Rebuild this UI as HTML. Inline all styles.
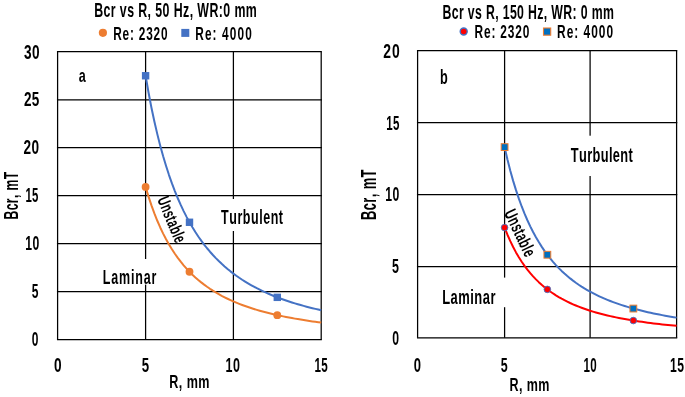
<!DOCTYPE html>
<html><head><meta charset="utf-8"><title>Bcr vs R</title><style>
html,body{margin:0;padding:0;background:#fff;}
body{width:685px;height:397px;overflow:hidden;}
svg{display:block;will-change:transform;}
text{font-family:"Liberation Sans",sans-serif;font-kerning:none;stroke:#000;stroke-width:0px;}
</style></head><body>
<svg width="685" height="397" viewBox="0 0 685 397">
<line x1="56.95" y1="339.5" x2="321.84999999999997" y2="339.5" stroke="#000" stroke-width="1.25"/>
<line x1="56.95" y1="291.6" x2="321.84999999999997" y2="291.6" stroke="#000" stroke-width="1.25"/>
<line x1="56.95" y1="243.6" x2="321.84999999999997" y2="243.6" stroke="#000" stroke-width="1.25"/>
<line x1="56.95" y1="195.6" x2="321.84999999999997" y2="195.6" stroke="#000" stroke-width="1.25"/>
<line x1="56.95" y1="147.6" x2="321.84999999999997" y2="147.6" stroke="#000" stroke-width="1.25"/>
<line x1="56.95" y1="99.8" x2="321.84999999999997" y2="99.8" stroke="#000" stroke-width="1.25"/>
<line x1="56.95" y1="51.7" x2="321.84999999999997" y2="51.7" stroke="#000" stroke-width="1.25"/>
<line x1="57.6" y1="339.5" x2="57.6" y2="51.7" stroke="#000" stroke-width="1.25"/>
<line x1="145.6" y1="339.5" x2="145.6" y2="51.7" stroke="#000" stroke-width="1.25"/>
<line x1="233.4" y1="339.5" x2="233.4" y2="51.7" stroke="#000" stroke-width="1.25"/>
<line x1="321.2" y1="339.5" x2="321.2" y2="51.7" stroke="#000" stroke-width="1.25"/>
<line x1="416.95000000000005" y1="337.8" x2="677.25" y2="337.8" stroke="#000" stroke-width="1.25"/>
<line x1="416.95000000000005" y1="266.5" x2="677.25" y2="266.5" stroke="#000" stroke-width="1.25"/>
<line x1="416.95000000000005" y1="194.5" x2="677.25" y2="194.5" stroke="#000" stroke-width="1.25"/>
<line x1="416.95000000000005" y1="122.7" x2="677.25" y2="122.7" stroke="#000" stroke-width="1.25"/>
<line x1="416.95000000000005" y1="50.6" x2="677.25" y2="50.6" stroke="#000" stroke-width="1.25"/>
<line x1="417.6" y1="337.8" x2="417.6" y2="50.6" stroke="#000" stroke-width="1.25"/>
<line x1="504.6" y1="337.8" x2="504.6" y2="50.6" stroke="#000" stroke-width="1.25"/>
<line x1="590.1" y1="337.8" x2="590.1" y2="50.6" stroke="#000" stroke-width="1.25"/>
<line x1="676.6" y1="337.8" x2="676.6" y2="50.6" stroke="#000" stroke-width="1.25"/>
<rect x="215" y="199" width="75" height="32" fill="#fff"/>
<rect x="98" y="259" width="64" height="25.6" fill="#fff"/>
<rect x="565" y="135.7" width="75" height="40.3" fill="#fff"/>
<rect x="437" y="277.6" width="73" height="29.6" fill="#fff"/>
<path d="M145.60,186.96 L148.53,196.65 L151.45,205.44 L154.38,213.45 L157.31,220.76 L160.23,227.46 L163.16,233.60 L166.09,239.25 L169.01,244.46 L171.94,249.28 L174.87,253.74 L177.79,257.88 L180.72,261.72 L183.65,265.30 L186.57,268.64 L189.50,271.76 L192.43,274.68 L195.35,277.41 L198.28,279.98 L201.21,282.38 L204.13,284.65 L207.06,286.78 L209.99,288.80 L212.91,290.69 L215.84,292.49 L218.77,294.18 L221.69,295.79 L224.62,297.31 L227.55,298.75 L230.47,300.12 L233.40,301.42 L236.33,302.66 L239.25,303.84 L242.18,304.96 L245.11,306.03 L248.03,307.05 L250.96,308.03 L253.89,308.96 L256.81,309.85 L259.74,310.71 L262.67,311.52 L265.59,312.31 L268.52,313.06 L271.45,313.77 L274.37,314.47 L277.30,315.13 L280.23,315.77 L283.15,316.38 L286.08,316.97 L289.01,317.53 L291.93,318.08 L294.86,318.61 L297.79,319.11 L300.71,319.60 L303.64,320.07 L306.57,320.53 L309.49,320.96 L312.42,321.39 L315.35,321.80 L318.27,322.19 L321.20,322.58" fill="none" stroke="#ED7D31" stroke-width="2.0" stroke-linejoin="round"/>
<path d="M145.60,75.75 L148.53,92.54 L151.45,107.74 L154.38,121.53 L157.31,134.12 L160.23,145.65 L163.16,156.27 L166.09,166.04 L169.01,175.06 L171.94,183.39 L174.87,191.10 L177.79,198.26 L180.72,204.91 L183.65,211.10 L186.57,216.87 L189.50,222.27 L192.43,227.31 L195.35,232.04 L198.28,236.47 L201.21,240.64 L204.13,244.56 L207.06,248.25 L209.99,251.73 L212.91,255.01 L215.84,258.12 L218.77,261.05 L221.69,263.83 L224.62,266.47 L227.55,268.97 L230.47,271.34 L233.40,273.60 L236.33,275.75 L239.25,277.79 L242.18,279.74 L245.11,281.59 L248.03,283.36 L250.96,285.05 L253.89,286.67 L256.81,288.22 L259.74,289.69 L262.67,291.11 L265.59,292.46 L268.52,293.76 L271.45,295.01 L274.37,296.20 L277.30,297.35 L280.23,298.45 L283.15,299.51 L286.08,300.53 L289.01,301.51 L291.93,302.45 L294.86,303.36 L297.79,304.24 L300.71,305.08 L303.64,305.90 L306.57,306.68 L309.49,307.44 L312.42,308.17 L315.35,308.88 L318.27,309.57 L321.20,310.23" fill="none" stroke="#4472C4" stroke-width="2.0" stroke-linejoin="round"/>
<circle cx="145.60" cy="186.96" r="3.9" fill="#ED7D31"/>
<rect x="141.90" y="72.05" width="7.4" height="7.4" fill="#4472C4"/>
<circle cx="189.50" cy="271.76" r="3.9" fill="#ED7D31"/>
<rect x="185.80" y="218.57" width="7.4" height="7.4" fill="#4472C4"/>
<circle cx="277.30" cy="315.13" r="3.9" fill="#ED7D31"/>
<rect x="273.60" y="293.65" width="7.4" height="7.4" fill="#4472C4"/>
<path d="M504.60,227.62 L507.45,234.73 L510.30,241.17 L513.15,247.04 L516.00,252.39 L518.85,257.29 L521.70,261.78 L524.55,265.91 L527.40,269.69 L530.25,273.17 L533.10,276.39 L535.95,279.38 L538.80,282.15 L541.65,284.74 L544.50,287.15 L547.35,289.39 L550.20,291.50 L553.05,293.46 L555.90,295.31 L558.75,297.04 L561.60,298.67 L564.45,300.21 L567.30,301.65 L570.15,303.02 L573.00,304.31 L575.85,305.53 L578.70,306.68 L581.55,307.77 L584.40,308.81 L587.25,309.79 L590.10,310.73 L592.98,311.62 L595.87,312.46 L598.75,313.27 L601.63,314.04 L604.52,314.77 L607.40,315.47 L610.28,316.14 L613.17,316.78 L616.05,317.39 L618.93,317.97 L621.82,318.53 L624.70,319.07 L627.58,319.58 L630.47,320.08 L633.35,320.55 L636.23,321.01 L639.12,321.44 L642.00,321.86 L644.88,322.27 L647.77,322.66 L650.65,323.03 L653.53,323.40 L656.42,323.74 L659.30,324.08 L662.18,324.40 L665.07,324.72 L667.95,325.02 L670.83,325.31 L673.72,325.59 L676.60,325.86" fill="none" stroke="#FF0000" stroke-width="2.0" stroke-linejoin="round"/>
<path d="M504.60,147.11 L507.45,159.47 L510.30,170.67 L513.15,180.86 L516.00,190.15 L518.85,198.66 L521.70,206.47 L524.55,213.64 L527.40,220.25 L530.25,226.36 L533.10,232.00 L535.95,237.23 L538.80,242.09 L541.65,246.61 L544.50,250.82 L547.35,254.75 L550.20,258.42 L553.05,261.86 L555.90,265.08 L558.75,268.09 L561.60,270.90 L564.45,273.55 L567.30,276.05 L570.15,278.40 L573.00,280.62 L575.85,282.72 L578.70,284.71 L581.55,286.59 L584.40,288.38 L587.25,290.07 L590.10,291.68 L592.98,293.21 L595.87,294.67 L598.75,296.05 L601.63,297.37 L604.52,298.63 L607.40,299.83 L610.28,300.98 L613.17,302.07 L616.05,303.12 L618.93,304.13 L621.82,305.09 L624.70,306.01 L627.58,306.89 L630.47,307.73 L633.35,308.55 L636.23,309.33 L639.12,310.08 L642.00,310.80 L644.88,311.49 L647.77,312.16 L650.65,312.80 L653.53,313.42 L656.42,314.01 L659.30,314.58 L662.18,315.14 L665.07,315.67 L667.95,316.19 L670.83,316.69 L673.72,317.17 L676.60,317.63" fill="none" stroke="#4472C4" stroke-width="2.0" stroke-linejoin="round"/>
<circle cx="504.60" cy="227.62" r="3.3" fill="#FF0000" stroke="#4472C4" stroke-width="0.9"/>
<rect x="501.20" y="143.71" width="6.8" height="6.8" fill="#0070C0" stroke="#ED7D31" stroke-width="1.0"/>
<circle cx="547.35" cy="289.39" r="3.3" fill="#FF0000" stroke="#4472C4" stroke-width="0.9"/>
<rect x="543.95" y="251.35" width="6.8" height="6.8" fill="#0070C0" stroke="#ED7D31" stroke-width="1.0"/>
<circle cx="633.35" cy="320.55" r="3.3" fill="#FF0000" stroke="#4472C4" stroke-width="0.9"/>
<rect x="629.95" y="305.15" width="6.8" height="6.8" fill="#0070C0" stroke="#ED7D31" stroke-width="1.0"/>
<text transform="translate(95.00,16.70) scale(0.6400,1)" x="-1.29" y="0" font-size="19.33" font-weight="bold" letter-spacing="0.637" fill="#000">Bcr vs R, 50 Hz, WR:0 mm</text>
<text transform="translate(443.30,19.10) scale(0.6001,1)" x="-1.37" y="0" font-size="20.49" font-weight="bold" letter-spacing="0.600" fill="#000">Bcr vs R, 150 Hz, WR: 0 mm</text>
<circle cx="102.9" cy="32.85" r="4.1" fill="#ED7D31"/>
<text transform="translate(114.00,39.50) scale(0.6400,1)" x="-1.23" y="0" font-size="18.46" font-weight="bold" letter-spacing="1.289" fill="#000">Re: 2320</text>
<rect x="181.3" y="28.9" width="8" height="8" fill="#4472C4"/>
<text transform="translate(196.00,39.50) scale(0.6400,1)" x="-1.23" y="0" font-size="18.46" font-weight="bold" letter-spacing="1.780" fill="#000">Re: 4000</text>
<circle cx="463.7" cy="31.5" r="3.5" fill="#FF0000" stroke="#4472C4" stroke-width="1.4"/>
<text transform="translate(475.30,38.30) scale(0.6400,1)" x="-1.24" y="0" font-size="18.60" font-weight="bold" letter-spacing="1.295" fill="#000">Re: 2320</text>
<rect x="543.5" y="28.0" width="7.2" height="7.2" fill="#0070C0" stroke="#ED7D31" stroke-width="1.1"/>
<text transform="translate(557.90,38.30) scale(0.6400,1)" x="-1.24" y="0" font-size="18.60" font-weight="bold" letter-spacing="1.563" fill="#000">Re: 4000</text>
<text transform="translate(32.20,346.00) scale(0.5978,1)" x="-0.79" y="0" font-size="20.05" font-weight="bold" letter-spacing="0.000" fill="#000">0</text>
<text transform="translate(32.20,297.95) scale(0.6014,1)" x="-0.62" y="0" font-size="20.05" font-weight="bold" letter-spacing="0.000" fill="#000">5</text>
<text transform="translate(26.00,250.00) scale(0.6101,1)" x="-1.26" y="0" font-size="20.05" font-weight="bold" letter-spacing="0.600" fill="#000">10</text>
<text transform="translate(26.10,201.95) scale(0.5692,1)" x="-1.26" y="0" font-size="20.05" font-weight="bold" letter-spacing="0.600" fill="#000">15</text>
<text transform="translate(24.00,154.05) scale(0.6800,1)" x="-0.70" y="0" font-size="20.05" font-weight="bold" letter-spacing="0.686" fill="#000">20</text>
<text transform="translate(24.40,106.35) scale(0.6744,1)" x="-0.70" y="0" font-size="20.05" font-weight="bold" letter-spacing="0.600" fill="#000">25</text>
<text transform="translate(24.40,59.05) scale(0.6799,1)" x="-0.46" y="0" font-size="20.05" font-weight="bold" letter-spacing="0.600" fill="#000">30</text>
<text transform="translate(392.70,344.60) scale(0.5955,1)" x="-0.81" y="0" font-size="20.48" font-weight="bold" letter-spacing="0.000" fill="#000">0</text>
<text transform="translate(392.40,273.10) scale(0.6084,1)" x="-0.63" y="0" font-size="20.48" font-weight="bold" letter-spacing="0.000" fill="#000">5</text>
<text transform="translate(386.10,200.90) scale(0.5976,1)" x="-1.29" y="0" font-size="20.48" font-weight="bold" letter-spacing="0.600" fill="#000">10</text>
<text transform="translate(387.00,130.00) scale(0.5623,1)" x="-1.29" y="0" font-size="20.48" font-weight="bold" letter-spacing="0.600" fill="#000">15</text>
<text transform="translate(383.70,57.60) scale(0.6800,1)" x="-0.71" y="0" font-size="20.48" font-weight="bold" letter-spacing="1.417" fill="#000">20</text>
<text transform="translate(54.60,372.30) scale(0.6721,1)" x="-0.80" y="0" font-size="20.34" font-weight="bold" letter-spacing="0.000" fill="#000">0</text>
<text transform="translate(142.20,372.30) scale(0.6523,1)" x="-0.63" y="0" font-size="20.34" font-weight="bold" letter-spacing="0.000" fill="#000">5</text>
<text transform="translate(226.40,372.30) scale(0.6160,1)" x="-1.28" y="0" font-size="20.34" font-weight="bold" letter-spacing="0.600" fill="#000">10</text>
<text transform="translate(315.20,372.30) scale(0.5708,1)" x="-1.28" y="0" font-size="20.34" font-weight="bold" letter-spacing="0.600" fill="#000">15</text>
<text transform="translate(414.20,372.35) scale(0.6549,1)" x="-0.79" y="0" font-size="19.91" font-weight="bold" letter-spacing="0.000" fill="#000">0</text>
<text transform="translate(501.20,372.35) scale(0.6259,1)" x="-0.61" y="0" font-size="19.91" font-weight="bold" letter-spacing="0.000" fill="#000">5</text>
<text transform="translate(584.30,372.35) scale(0.5805,1)" x="-1.25" y="0" font-size="19.91" font-weight="bold" letter-spacing="0.600" fill="#000">10</text>
<text transform="translate(670.80,372.35) scale(0.6114,1)" x="-1.25" y="0" font-size="19.91" font-weight="bold" letter-spacing="0.600" fill="#000">15</text>
<text transform="translate(170.20,387.70) scale(0.6721,1)" x="-1.25" y="0" font-size="18.75" font-weight="bold" letter-spacing="0.600" fill="#000">R, mm</text>
<text transform="translate(510.40,390.50) scale(0.6686,1)" x="-1.25" y="0" font-size="18.75" font-weight="bold" letter-spacing="0.600" fill="#000">R, mm</text>
<g transform="translate(10.90,195.30) rotate(-90) translate(-23.45,6.65) scale(0.6332,1)"><text x="-1.29" y="0" font-size="19.33" font-weight="bold" letter-spacing="0.600">Bcr, mT</text></g>
<g transform="translate(368.40,194.40) rotate(-90) translate(-24.70,7.30) scale(0.6102,1)"><text x="-1.42" y="0" font-size="21.22" font-weight="bold" letter-spacing="0.600">Bcr, mT</text></g>
<text transform="translate(79.10,81.80) scale(0.6761,1)" x="-0.54" y="0" font-size="18.58" font-weight="bold" letter-spacing="0.000" fill="#000">a</text>
<text transform="translate(440.80,84.30) scale(0.6347,1)" x="-1.32" y="0" font-size="20.01" font-weight="bold" letter-spacing="0.000" fill="#000">b</text>
<text transform="translate(221.20,223.70) scale(0.6400,1)" x="-0.22" y="0" font-size="19.52" font-weight="bold" letter-spacing="0.857" fill="#000">Turbulent</text>
<text transform="translate(103.70,283.70) scale(0.6400,1)" x="-1.31" y="0" font-size="19.52" font-weight="bold" letter-spacing="1.281" fill="#000">Laminar</text>
<text transform="translate(570.90,162.00) scale(0.6334,1)" x="-0.23" y="0" font-size="20.22" font-weight="bold" letter-spacing="0.600" fill="#000">Turbulent</text>
<text transform="translate(443.00,303.70) scale(0.6400,1)" x="-1.35" y="0" font-size="20.22" font-weight="bold" letter-spacing="0.783" fill="#000">Laminar</text>
<g transform="translate(172.00,219.60) rotate(67.5) translate(-23.75,6.10) scale(0.6136,1)"><text x="-1.07" y="0" font-size="17.73" font-weight="bold" letter-spacing="0.600">Unstable</text></g>
<g transform="translate(520.30,233.00) rotate(64.5) translate(-24.50,6.20) scale(0.6233,1)"><text x="-1.08" y="0" font-size="18.02" font-weight="bold" letter-spacing="0.600">Unstable</text></g>
</svg></body></html>
